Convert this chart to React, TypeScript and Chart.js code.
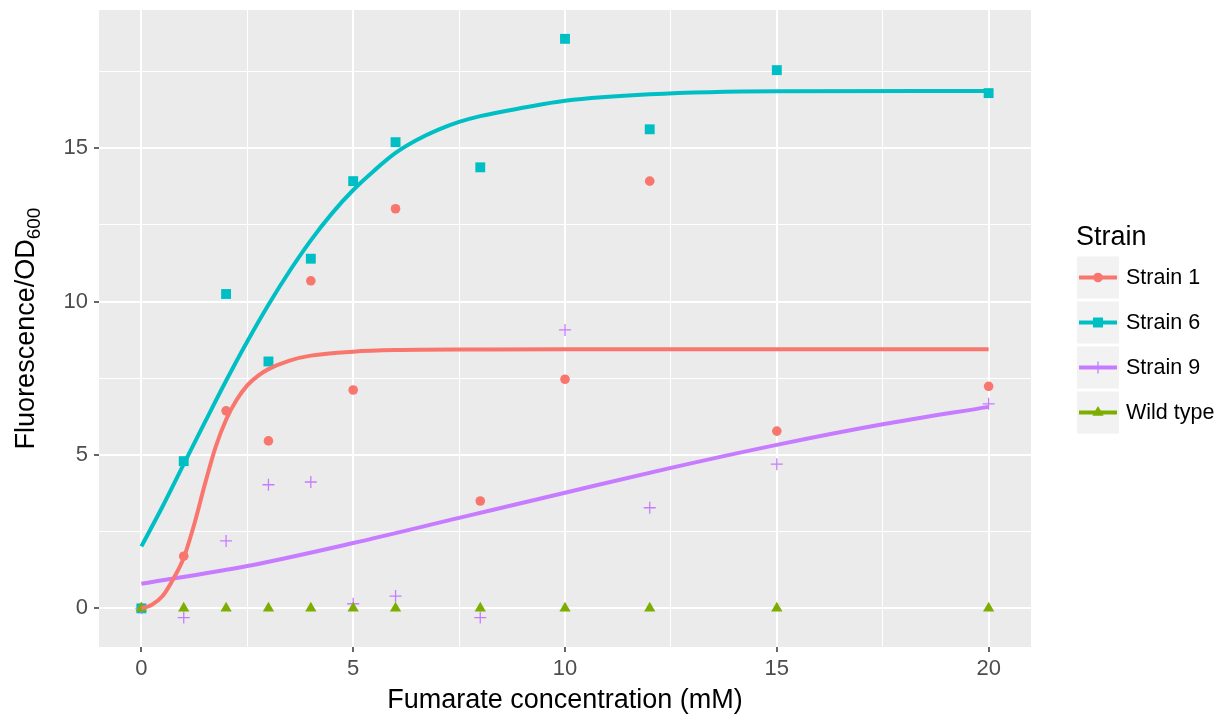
import { useEffect, useRef } from "react";
import { Chart, registerables } from "chart.js";

Chart.register(...registerables);

// ---- Data ----
const concentrations = [0, 1, 2, 3, 4, 5, 6, 8, 10, 12, 15, 20];
const strain1Values = [0, 1.7, 6.44, 5.46, 10.68, 7.12, 13.03, 3.5, 7.47, 13.93, 5.78, 7.24];
const strain6Values = [0, 4.8, 10.25, 8.05, 11.4, 13.93, 15.2, 14.38, 18.57, 15.62, 17.55, 16.8];
const strain9Values = [0, -0.3, 2.2, 4.03, 4.12, 0.15, 0.4, -0.3, 9.08, 3.28, 4.7, 6.67];
const wildTypeValues = [0, 0, 0, 0, 0, 0, 0, 0, 0, 0, 0, 0];

// fitted curves
const strain1FitX = [0, 0.25, 0.5, 0.75, 1, 1.25, 1.5, 1.75, 2, 2.25, 2.5, 2.75, 3, 3.5, 4, 5, 6, 8, 10, 15, 20];
const strain1FitY = [0, 0.12, 0.4, 0.95, 1.65, 2.75, 4.05, 5.25, 6.15, 6.8, 7.27, 7.58, 7.8, 8.08, 8.24, 8.37, 8.42, 8.44, 8.45, 8.45, 8.45];
const strain6FitX = [0, 0.5, 1, 1.5, 2, 2.5, 3, 3.5, 4, 4.5, 5, 5.5, 6, 6.5, 7, 7.5, 8, 9, 10, 12, 15, 20];
const strain6FitY = [2.02, 3.32, 4.7, 6.07, 7.42, 8.7, 9.9, 11.0, 12.0, 12.88, 13.64, 14.28, 14.85, 15.27, 15.6, 15.86, 16.05, 16.32, 16.55, 16.76, 16.86, 16.87];
const strain9FitX = [0, 2.5, 5, 7.5, 10, 12.5, 15, 17.5, 20];
const strain9FitY = [0.8, 1.38, 2.13, 2.95, 3.77, 4.58, 5.33, 6.0, 6.57];

const xTickValues = [0, 2.5, 5, 7.5, 10, 12.5, 15, 17.5, 20];
const yTickValues = [0, 2.5, 5, 7.5, 10, 12.5, 15, 17.5];

const legendLabels = ["Strain 1", "Strain 6", "Strain 9", "Wild type"];
const seriesColors = ["#F8766D", "#00BFC4", "#C77CFF", "#7CAE00"];

const FONT = '"Liberation Sans", Arial, Helvetica, sans-serif';

function drawMarker(ctx: CanvasRenderingContext2D, kind: number, x: number, y: number, color: string) {
  ctx.save();
  ctx.fillStyle = color;
  ctx.strokeStyle = color;
  if (kind === 0) {
    ctx.beginPath();
    ctx.arc(x, y, 4.8, 0, Math.PI * 2);
    ctx.fill();
  } else if (kind === 1) {
    ctx.fillRect(x - 5, y - 5, 10, 10);
  } else if (kind === 2) {
    ctx.lineWidth = 1.3;
    ctx.beginPath();
    ctx.moveTo(x - 6, y);
    ctx.lineTo(x + 6, y);
    ctx.moveTo(x, y - 6);
    ctx.lineTo(x, y + 6);
    ctx.stroke();
  } else {
    const r = 6.5;
    ctx.beginPath();
    ctx.moveTo(x, y - r);
    ctx.lineTo(x + r * Math.sin((2 * Math.PI) / 3), y - r * Math.cos((2 * Math.PI) / 3));
    ctx.lineTo(x + r * Math.sin((4 * Math.PI) / 3), y - r * Math.cos((4 * Math.PI) / 3));
    ctx.closePath();
    ctx.fill();
  }
  ctx.restore();
}

const decorPlugin = {
  id: "ggDecor",
  beforeDraw(chart: any) {
    const { ctx, chartArea } = chart;
    ctx.save();
    ctx.fillStyle = "#FFFFFF";
    ctx.fillRect(0, 0, chart.width, chart.height);
    ctx.fillStyle = "#EBEBEB";
    ctx.fillRect(chartArea.left, chartArea.top, chartArea.right - chartArea.left, chartArea.bottom - chartArea.top);
    ctx.restore();
  },
  afterDraw(chart: any) {
    const { ctx, chartArea } = chart;
    ctx.save();
    // x title
    ctx.fillStyle = "#000000";
    ctx.font = `27px ${FONT}`;
    ctx.textAlign = "center";
    ctx.textBaseline = "alphabetic";
    ctx.fillText("Fumarate concentration (mM)", (chartArea.left + chartArea.right) / 2, 708);

    // y title with subscript
    const main = "Fluorescence/OD";
    const sub = "600";
    ctx.font = `27px ${FONT}`;
    const w1 = ctx.measureText(main).width;
    ctx.font = `19px ${FONT}`;
    const w2 = ctx.measureText(sub).width;
    const total = w1 + w2;
    ctx.translate(34, (chartArea.top + chartArea.bottom) / 2);
    ctx.rotate(-Math.PI / 2);
    ctx.textAlign = "left";
    ctx.font = `27px ${FONT}`;
    ctx.fillText(main, -total / 2, 0);
    ctx.font = `19px ${FONT}`;
    ctx.fillText(sub, -total / 2 + w1, 6);
    ctx.restore();

    // legend
    ctx.save();
    ctx.fillStyle = "#000000";
    ctx.font = `27px ${FONT}`;
    ctx.textAlign = "left";
    ctx.textBaseline = "alphabetic";
    ctx.fillText("Strain", 1076, 245);
    const keyLeft = 1077;
    const keyW = 42;
    const keyH = 42;
    for (let i = 0; i < legendLabels.length; i++) {
      const cy = 277.5 + i * 45;
      ctx.fillStyle = "#F2F2F2";
      ctx.fillRect(keyLeft, cy - keyH / 2, keyW, keyH);
      ctx.strokeStyle = seriesColors[i];
      ctx.lineWidth = 4;
      ctx.beginPath();
      ctx.moveTo(keyLeft + 2, cy);
      ctx.lineTo(keyLeft + keyW - 2, cy);
      ctx.stroke();
      drawMarker(ctx, i, keyLeft + keyW / 2, cy, seriesColors[i]);
      ctx.fillStyle = "#000000";
      ctx.font = `21.5px ${FONT}`;
      ctx.textBaseline = "middle";
      ctx.fillText(legendLabels[i], 1126, cy + 1);
      ctx.textBaseline = "alphabetic";
    }
    ctx.restore();
  },
};

export default function App() {
  const canvasRef = useRef<HTMLCanvasElement>(null);

  useEffect(() => {
    const canvas = canvasRef.current;
    if (!canvas) return;

    const toPts = (xs: number[], ys: number[]) => xs.map((x, i) => ({ x, y: ys[i] }));

    const fit = (label: string, xs: number[], ys: number[], color: string) => ({
      label,
      data: toPts(xs, ys),
      showLine: true,
      borderColor: color,
      backgroundColor: color,
      borderWidth: 4,
      pointRadius: 0,
      cubicInterpolationMode: "monotone",
      fill: false,
    });

    const pts = (label: string, ys: number[], color: string, style: string, radius: number, bw: number) => ({
      label,
      data: toPts(concentrations, ys),
      showLine: false,
      pointStyle: style,
      pointRadius: radius,
      pointBorderWidth: bw,
      borderWidth: bw,
      backgroundColor: color,
      borderColor: color,
      pointBackgroundColor: color,
      pointBorderColor: color,
    });

    const gridWidth = (c: any) => (c.tick && c.tick.value % 5 === 0 ? 2 : 1);
    const tickColor = (c: any) => (c.tick && c.tick.value % 5 === 0 ? "#333333" : "rgba(0,0,0,0)");

    const chart = new Chart(canvas, {
      type: "scatter",
      data: {
        datasets: [
          fit("Strain 1 fit", strain1FitX, strain1FitY, seriesColors[0]),
          fit("Strain 6 fit", strain6FitX, strain6FitY, seriesColors[1]),
          fit("Strain 9 fit", strain9FitX, strain9FitY, seriesColors[2]),
          pts("Wild type", wildTypeValues, seriesColors[3], "triangle", 6.5, 0),
          pts("Strain 9", strain9Values, seriesColors[2], "cross", 6, 1.3),
          pts("Strain 6", strain6Values, seriesColors[1], "rect", 7, 0),
          pts("Strain 1", strain1Values, seriesColors[0], "circle", 4.8, 0),
        ] as any,
      },
      options: {
        animation: false,
        responsive: false,
        events: [],
        layout: { padding: { left: 0, right: 191, top: 10, bottom: 0 } },
        plugins: {
          legend: { display: false },
          tooltip: { enabled: false },
        },
        scales: {
          x: {
            type: "linear",
            min: -1,
            max: 21,
            afterBuildTicks: (scale: any) => {
              scale.ticks = xTickValues.map((v) => ({ value: v }));
            },
            afterFit: (scale: any) => {
              scale.height = 70;
              scale.paddingLeft = 0;
              scale.paddingRight = 0;
            },
            border: { display: false },
            grid: {
              color: "#FFFFFF",
              lineWidth: gridWidth,
              tickLength: 5,
              tickColor: tickColor,
              tickWidth: 1.5,
            },
            ticks: {
              autoSkip: false,
              maxRotation: 0,
              padding: 4,
              color: "#4D4D4D",
              font: { family: FONT, size: 22 },
              callback: (v: any) => (Number(v) % 5 === 0 ? String(v) : ""),
            },
          },
          y: {
            type: "linear",
            min: -1.26,
            max: 19.51,
            afterBuildTicks: (scale: any) => {
              scale.ticks = yTickValues.map((v) => ({ value: v }));
            },
            afterFit: (scale: any) => {
              scale.width = 99;
              scale.paddingTop = 0;
              scale.paddingBottom = 0;
            },
            border: { display: false },
            grid: {
              color: "#FFFFFF",
              lineWidth: gridWidth,
              tickLength: 5,
              tickColor: tickColor,
              tickWidth: 1.5,
            },
            ticks: {
              autoSkip: false,
              padding: 6,
              color: "#4D4D4D",
              font: { family: FONT, size: 22 },
              callback: (v: any) => (Number(v) % 5 === 0 ? String(v) : ""),
            },
          },
        },
      },
      plugins: [decorPlugin],
    });

    return () => chart.destroy();
  }, []);

  return (
    <div style={{ position: "absolute", left: 0, top: 0, width: 1222, height: 717, background: "#FFFFFF" }}>
      <canvas ref={canvasRef} width={1222} height={717} style={{ width: 1222, height: 717, display: "block" }} />
    </div>
  );
}
